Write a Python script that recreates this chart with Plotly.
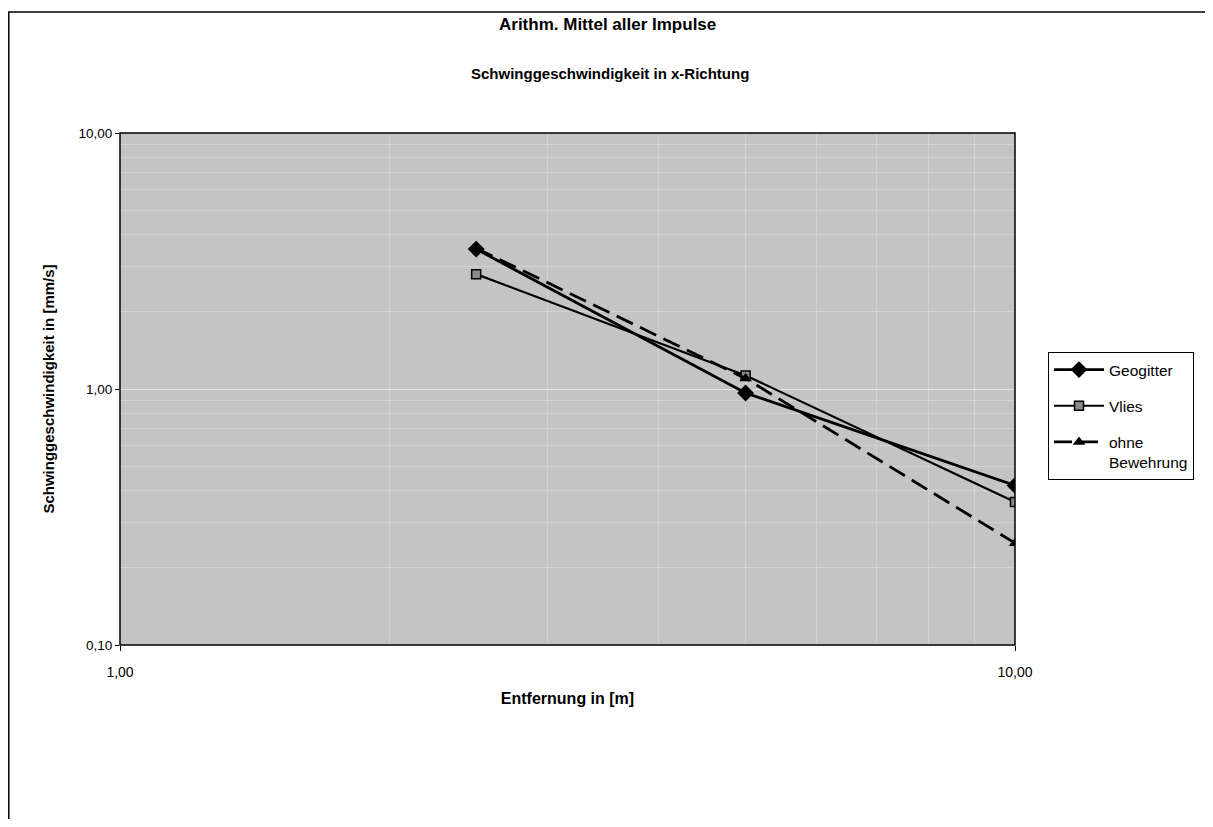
import plotly.graph_objects as go

# Data
entfernung = [2.5, 5.0, 10.0]
geogitter = [3.52, 0.965, 0.42]
vlies = [2.81, 1.13, 0.362]
ohne_bewehrung = [3.55, 1.10, 0.25]

x_tickvals = [1, 10]
x_ticktext = ["1,00", "10,00"]
y_tickvals = [0.1, 1, 10]
y_ticktext = ["0,10", "1,00", "10,00"]

title_main = "Arithm. Mittel aller Impulse"
title_sub = "Schwinggeschwindigkeit in x-Richtung"
x_title = "Entfernung in [m]"
y_title = "Schwinggeschwindigkeit in [mm/s]"

FONT = "Liberation Sans, Arial, sans-serif"

fig = go.Figure()
fig.add_trace(go.Scatter(
    x=entfernung, y=geogitter, name="Geogitter", mode="lines+markers", legendgroup="a",
    line=dict(color="black", width=2.8),
    marker=dict(symbol="diamond", size=13, color="black"),
))
fig.add_trace(go.Scatter(
    x=entfernung, y=vlies, name="Vlies", mode="lines+markers", legendgroup="b",
    line=dict(color="black", width=2.2),
    marker=dict(symbol="square", size=9, color="#8a8a8a", line=dict(color="black", width=1.5)),
))
fig.add_trace(go.Scatter(
    x=entfernung, y=ohne_bewehrung, name="ohne<br>Bewehrung", mode="lines+markers", legendgroup="c",
    line=dict(color="black", width=2.8, dash="18px,8px"),
    marker=dict(symbol="triangle-up", size=11, color="black"),
))

OFF = 8  # browser body margin
W, H = 1213 - OFF, 827 - 2 * OFF
L, R, T, B = 120 - OFF, 1015 - OFF, 133 - OFF, 645 - OFF
pw, ph = R - L, B - T

def px(x):
    return (x - OFF - L) / pw

def py(y):
    return (B - (y - OFF)) / ph

shapes = [
    dict(type="rect", xref="paper", yref="paper", x0=px(8.8), x1=px(1207), y0=py(860), y1=py(12),
         line=dict(color="black", width=1.5), layer="below"),
    dict(type="rect", xref="paper", yref="paper", x0=0, x1=1, y0=0, y1=1,
         line=dict(color="black", width=1.5)),
]

annotations = [
    dict(text="<b>" + title_main + "</b>", xref="paper", yref="paper", x=px(607), y=py(24),
         showarrow=False, font=dict(family=FONT, size=17, color="black"), xanchor="center", yanchor="middle"),
    dict(text="<b>" + title_sub + "</b>", xref="paper", yref="paper", x=px(610), y=py(73),
         showarrow=False, font=dict(family=FONT, size=15, color="black"), xanchor="center", yanchor="middle"),
]

fig.update_layout(
    width=W, height=H,
    margin=dict(l=L, r=W - R, t=T, b=H - B, autoexpand=False),
    paper_bgcolor="white",
    plot_bgcolor="#c4c4c4",
    font=dict(family=FONT, size=13, color="black"),
    shapes=shapes,
    annotations=annotations,
    legend=dict(
        x=px(1048), y=py(352), xanchor="left", yanchor="top",
        bgcolor="white", bordercolor="black", borderwidth=1,
        font=dict(family=FONT, size=15.5, color="black"),
        tracegroupgap=13, valign="top", itemwidth=50,
    ),
    showlegend=True,
)

fig.update_xaxes(
    type="log", range=[0, 1],
    tickvals=x_tickvals, ticktext=x_ticktext,
    ticks="outside", ticklen=5, tickcolor="black",
    showline=False, zeroline=False,
    showgrid=True, gridcolor="#e2e2e2", gridwidth=1,
    minor=dict(showgrid=True, gridcolor="#d2d2d2", gridwidth=1, dtick="D1"),
    ticklabelstandoff=9,
    tickfont=dict(size=14),
    title=dict(text="<b>" + x_title + "</b>", font=dict(family=FONT, size=16), standoff=14),
)
fig.update_yaxes(
    type="log", range=[-1, 1],
    tickvals=y_tickvals, ticktext=y_ticktext,
    ticks="outside", ticklen=4, tickcolor="black",
    showline=False, zeroline=False,
    showgrid=True, gridcolor="#e2e2e2", gridwidth=1,
    minor=dict(showgrid=True, gridcolor="#d2d2d2", gridwidth=1, dtick="D1"),
    tickfont=dict(size=13.5),
    title=dict(text="<b>" + y_title + "</b>", font=dict(family=FONT, size=15), standoff=20),
)

fig.write_html("out.html")
